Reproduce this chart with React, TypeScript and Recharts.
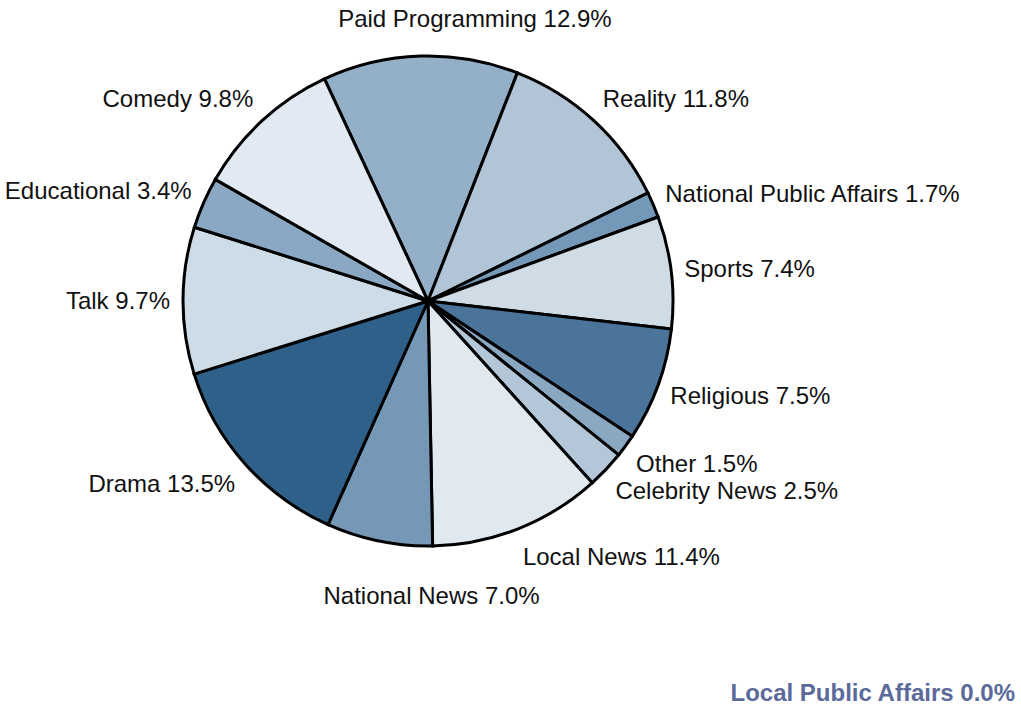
import { PieChart, Pie, Cell } from "recharts";

// Genres, clockwise from the top-left edge of "Paid Programming"
const genres = [
  "Paid Programming", "Reality", "National Public Affairs", "Sports",
  "Religious", "Other", "Celebrity News", "Local News", "National News",
  "Drama", "Talk", "Educational", "Comedy", "Local Public Affairs",
];
const shares = [12.9, 11.8, 1.7, 7.4, 7.5, 1.5, 2.5, 11.4, 7.0, 13.5, 9.7, 3.4, 9.8, 0.0];
const fills = [
  "#94afc8", "#b1c5d7", "#7398b8", "#cfdce6", "#4a7499", "#8ba8c3", "#b3c7d9",
  "#e1e9f0", "#7598b6", "#2f6089", "#cddce6", "#8aa8c4", "#e1eaf2", "#cccccc",
];

const data = genres.map((name, i) => ({ name, value: shares[i], fill: fills[i] }));
const slices = data.filter((d) => d.value > 0);
const zeroes = data.filter((d) => d.value === 0);

const RAD = Math.PI / 180;
const FONT = "Liberation Sans, Arial, sans-serif";

// labels sit on an ellipse a little outside the pie;
// top/bottom ones are centred and nudged right like the original
const renderLabel = (p: any) => {
  const { cx, cy, outerRadius, midAngle, payload } = p;
  const s = Math.sin(-midAngle * RAD);
  const c = Math.cos(-midAngle * RAD);
  const nearVertical = Math.abs(c) < 0.25;
  const rx = outerRadius + 13;
  const ry = outerRadius + (nearVertical ? (s < 0 ? 38 : 56) : 30);
  const x = cx + rx * c + (nearVertical ? 55 : 0);
  const y = cy + ry * s;
  const anchor = nearVertical ? "middle" : c > 0 ? "start" : "end";
  return (
    <text
      x={x}
      y={y}
      textAnchor={anchor}
      dominantBaseline="central"
      fill="#111"
      fontSize={24}
      fontFamily={FONT}
    >
      {`${payload.name} ${payload.value.toFixed(1)}%`}
    </text>
  );
};

export default function App() {
  return (
    <div style={{ position: "absolute", left: 0, top: 0, width: 1021, height: 706, background: "#fff" }}>
      <PieChart width={1021} height={706}>
        <Pie
          data={slices}
          dataKey="value"
          nameKey="name"
          cx={423}
          cy={296}
          outerRadius={245}
          startAngle={115}
          endAngle={-245}
          stroke="#000"
          strokeWidth={3}
          label={renderLabel}
          labelLine={false}
          isAnimationActive={false}
        >
          {slices.map((d) => (
            <Cell key={d.name} fill={d.fill} />
          ))}
        </Pie>
        {zeroes.map((d) => (
          <text
            key={d.name}
            x={1015}
            y={692}
            textAnchor="end"
            dominantBaseline="central"
            fill="#5b6a9a"
            fontSize={24}
            fontWeight="bold"
            fontFamily={FONT}
          >
            {`${d.name} ${d.value.toFixed(1)}%`}
          </text>
        ))}
      </PieChart>
    </div>
  );
}
